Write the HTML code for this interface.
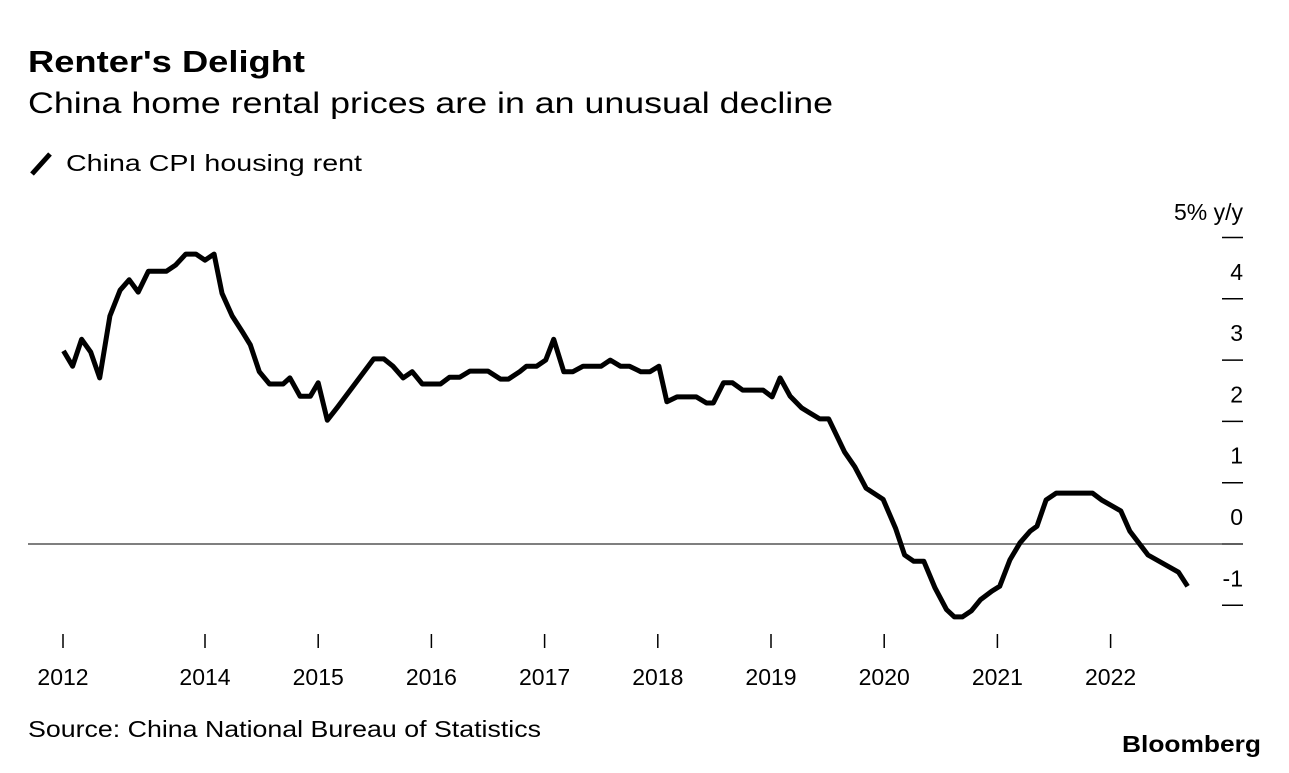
<!DOCTYPE html>
<html><head><meta charset="utf-8"><style>
body{margin:0;background:#fff;font-family:"Liberation Sans",sans-serif;}
svg text{font-family:"Liberation Sans",sans-serif;fill:#000;}
</style></head><body>
<svg width="1289" height="768" viewBox="0 0 1289 768">
<text x="28" y="72" font-size="31" font-weight="bold" textLength="277" lengthAdjust="spacingAndGlyphs">Renter's Delight</text>
<text x="28" y="113" font-size="30" textLength="805" lengthAdjust="spacingAndGlyphs">China home rental prices are in an unusual decline</text>
<line x1="32" y1="174" x2="50" y2="154" stroke="#000" stroke-width="5"/>
<text x="66" y="171" font-size="23" textLength="296" lengthAdjust="spacingAndGlyphs">China CPI housing rent</text>
<text x="1243" y="220" font-size="23" text-anchor="end">5% y/y</text>
<g id="yaxis"></g>
<g id="xaxis"></g>
<line x1="28" y1="544" x2="1243" y2="544" stroke="#555" stroke-width="1.5"/>
<path id="line" fill="none" stroke="#000" stroke-width="5" stroke-linejoin="round"/>
<text x="28" y="737" font-size="23" textLength="513" lengthAdjust="spacingAndGlyphs">Source: China National Bureau of Statistics</text>
<text x="1261" y="752" font-size="23" font-weight="bold" text-anchor="end" textLength="139" lengthAdjust="spacingAndGlyphs">Bloomberg</text>
</svg>
<script>
const dates=[2012.75,2012.83,2012.91,2012.99,2013.07,2013.16,2013.25,2013.33,2013.41,2013.50,2013.66,2013.74,2013.83,2013.92,2014.00,2014.08,2014.15,2014.24,2014.33,2014.40,2014.48,2014.57,2014.69,2014.75,2014.84,2014.93,2015.00,2015.08,2015.17,2015.49,2015.58,2015.66,2015.75,2015.83,2015.92,2016.08,2016.16,2016.25,2016.34,2016.50,2016.61,2016.68,2016.78,2016.84,2016.93,2017.01,2017.08,2017.17,2017.25,2017.34,2017.50,2017.58,2017.67,2017.75,2017.85,2017.93,2018.01,2018.08,2018.17,2018.34,2018.43,2018.49,2018.58,2018.66,2018.75,2018.93,2019.01,2019.08,2019.17,2019.27,2019.34,2019.43,2019.51,2019.65,2019.74,2019.84,2019.99,2020.10,2020.18,2020.26,2020.35,2020.45,2020.55,2020.62,2020.69,2020.77,2020.85,2020.95,2021.02,2021.11,2021.20,2021.29,2021.35,2021.43,2021.52,2021.84,2021.92,2022.09,2022.17,2022.33,2022.60,2022.68];
const values=[3.15,2.90,3.34,3.13,2.71,3.72,4.14,4.31,4.11,4.45,4.45,4.55,4.73,4.73,4.63,4.73,4.09,3.72,3.46,3.25,2.81,2.61,2.61,2.71,2.41,2.41,2.63,2.02,2.23,3.02,3.02,2.90,2.71,2.81,2.61,2.61,2.72,2.72,2.82,2.82,2.69,2.69,2.81,2.90,2.90,3.00,3.34,2.81,2.81,2.90,2.90,3.00,2.90,2.90,2.81,2.81,2.90,2.32,2.40,2.40,2.30,2.30,2.63,2.63,2.51,2.51,2.40,2.71,2.41,2.22,2.14,2.04,2.04,1.50,1.26,0.91,0.73,0.26,-0.18,-0.28,-0.28,-0.72,-1.07,-1.19,-1.19,-1.09,-0.91,-0.77,-0.69,-0.26,0.02,0.21,0.29,0.72,0.83,0.83,0.72,0.54,0.21,-0.18,-0.46,-0.69];
const yTicks=[5,4,3,2,1,0,-1];
const yTickLabels=["","4","3","2","1","0","-1"];
const xTicks=[2014,2015,2016,2017,2018,2019,2020,2021,2022];
const xTickLabels=["2014","2015","2016","2017","2018","2019","2020","2021","2022"];
const NS="http://www.w3.org/2000/svg";
function xs(t){return 205+(t-2014)*113.2;}
function ys(v){return 544-v*61.3;}
const ya=document.getElementById('yaxis');
yTicks.forEach((v,i)=>{
 const l=document.createElementNS(NS,'line');
 l.setAttribute('x1',1222);l.setAttribute('x2',1243);l.setAttribute('y1',ys(v));l.setAttribute('y2',ys(v));
 l.setAttribute('stroke','#000');l.setAttribute('stroke-width','1.5');
 
 
 ya.appendChild(l);
 if(yTickLabels[i]){
  const t=document.createElementNS(NS,'text');
  t.setAttribute('x',1243);t.setAttribute('y',ys(v)-19);t.setAttribute('font-size','23');t.setAttribute('text-anchor','end');
  t.textContent=yTickLabels[i];
  
  
  ya.appendChild(t);
 }
});
const xa=document.getElementById('xaxis');
function xtick(x,label){
 const l=document.createElementNS(NS,'line');
 l.setAttribute('x1',x);l.setAttribute('x2',x);l.setAttribute('y1',634);l.setAttribute('y2',648);
 l.setAttribute('stroke','#000');l.setAttribute('stroke-width','1.5');
 
 
 xa.appendChild(l);
 const t=document.createElementNS(NS,'text');
 t.setAttribute('x',x);t.setAttribute('y',685);t.setAttribute('font-size','23');t.setAttribute('text-anchor','middle');
 t.textContent=label;
 
 
 xa.appendChild(t);
}
xtick(63,"2012");
xTicks.forEach((t,i)=>xtick(xs(t),xTickLabels[i]));
document.getElementById('line').setAttribute('d',dates.map((d,i)=>(i?'L':'M')+xs(d).toFixed(1)+','+ys(values[i]).toFixed(1)).join(''));
</script>
</body></html>
